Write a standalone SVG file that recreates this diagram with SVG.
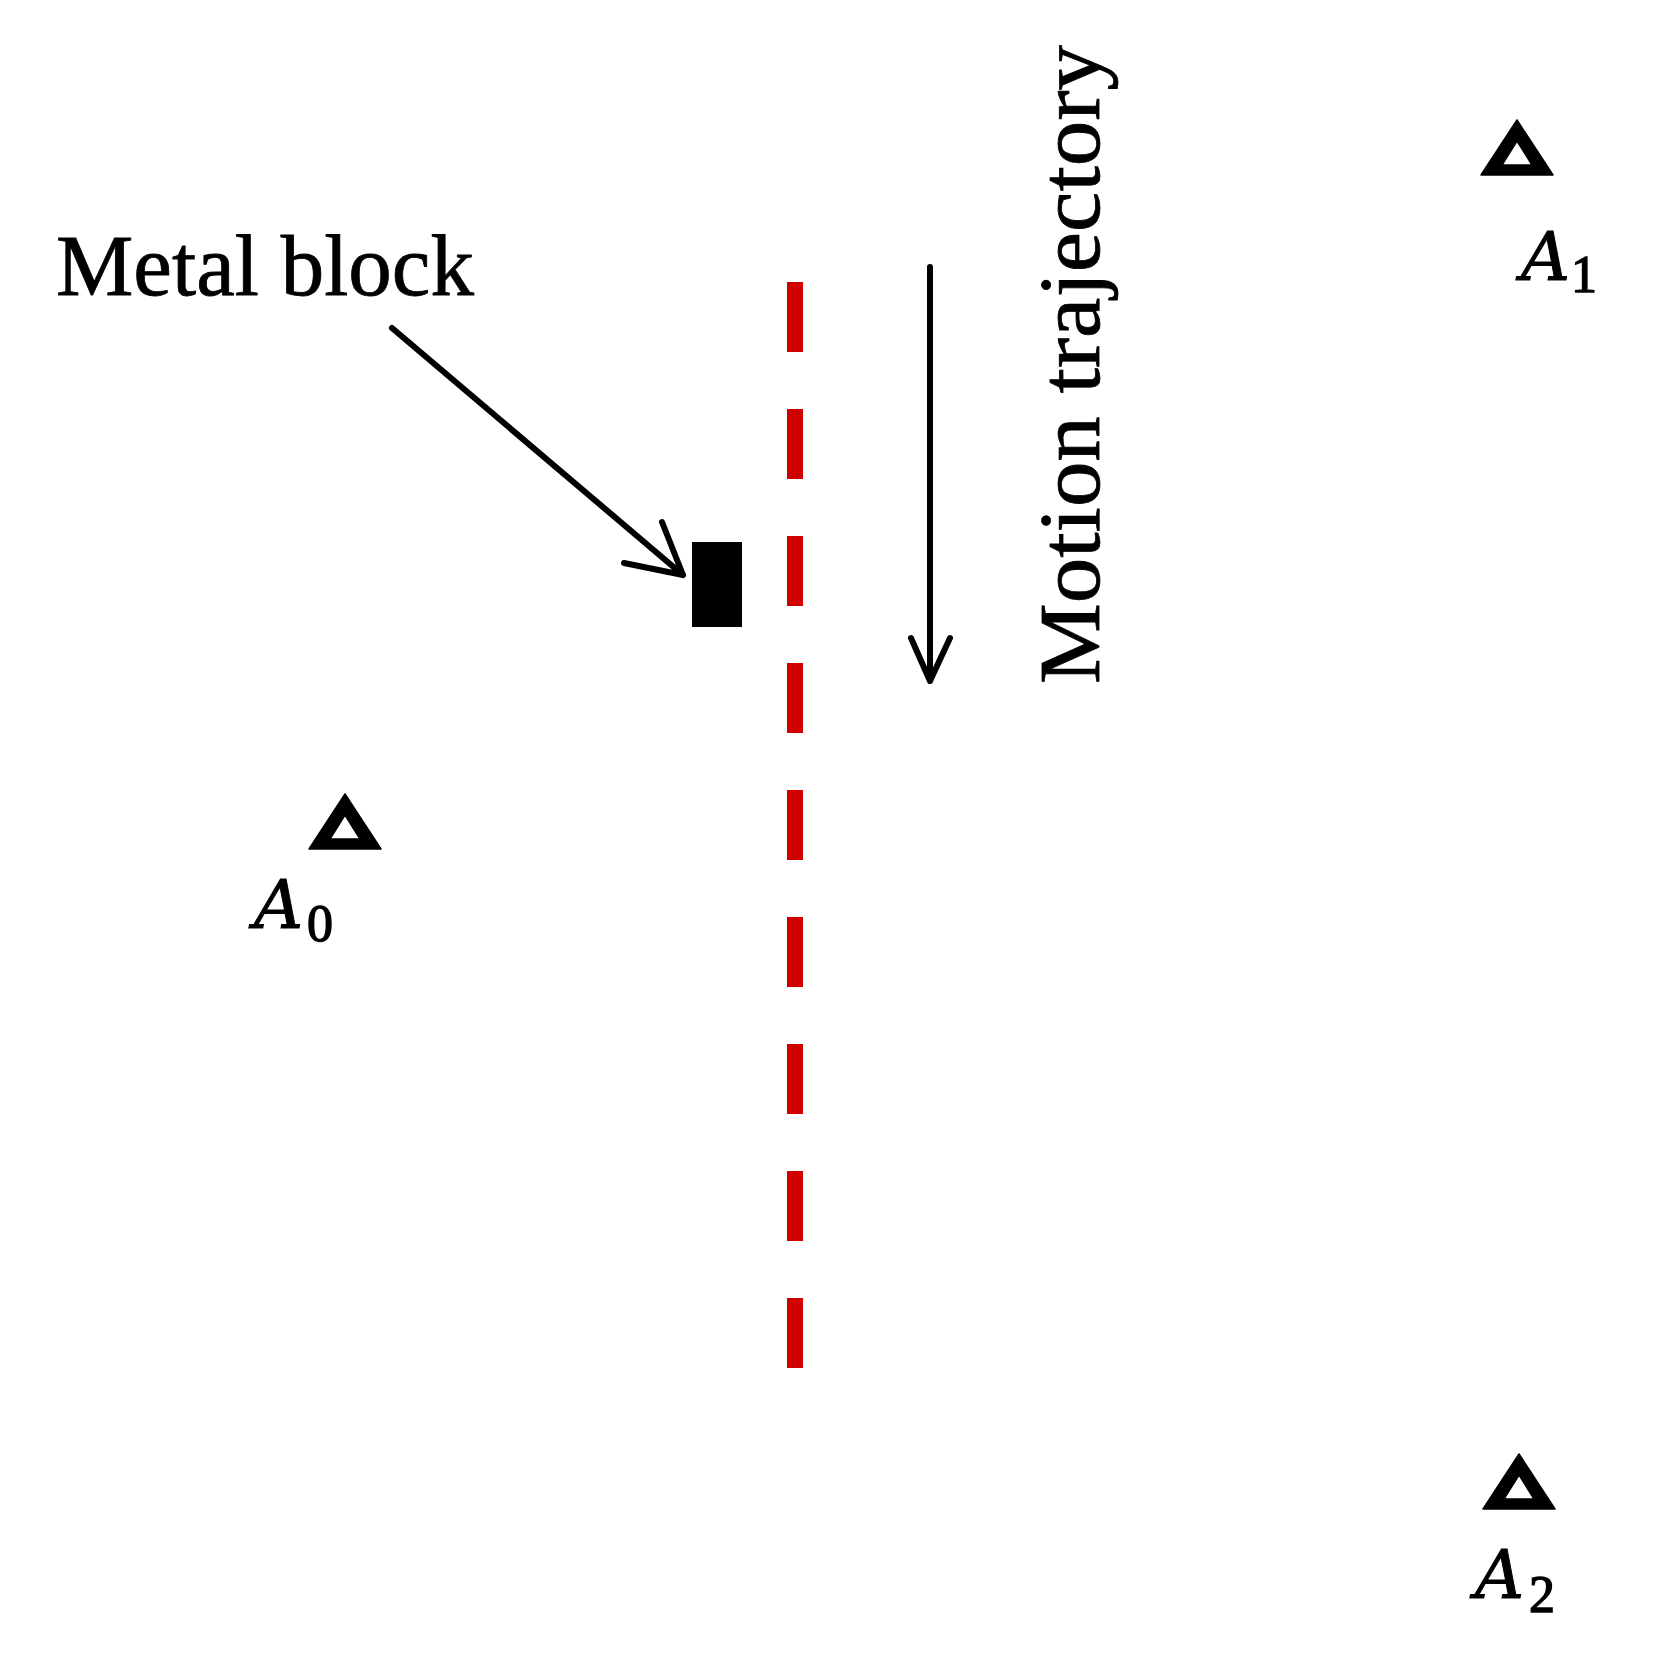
<svg xmlns="http://www.w3.org/2000/svg" width="1680" height="1673" viewBox="0 0 1680 1673">
<style>
.lbl{font-family:"Liberation Serif","Times New Roman",serif;font-size:87px;fill:#000;stroke:#000;stroke-width:0.8}
.math{font-family:"DejaVu Serif","Liberation Serif",serif;font-style:italic;font-size:68px;fill:#000;stroke:#000;stroke-width:1}
.sub{font-family:"Liberation Serif","Times New Roman",serif;font-size:52px;fill:#000;stroke:#000;stroke-width:1.4}
.arr{stroke:#000;stroke-width:6;fill:none;stroke-linecap:round;stroke-linejoin:round}
</style>
<defs>
<path id="tri" d="M0,0 L36,55 L-36,55 Z M0,21 L-15,45 L15,45 Z" fill="#000" fill-rule="evenodd" stroke="#000" stroke-width="1.5" stroke-linejoin="round"/>
</defs>
<rect width="1680" height="1673" fill="#fff"/>
<g id="trajectory-line">
<line x1="795" y1="282" x2="795" y2="1370" stroke="#d00000" stroke-width="16" stroke-dasharray="70 57"/>
</g>
<g id="metal-block">
<rect x="692" y="542" width="50" height="85" fill="#000"/>
<text class="lbl" x="56" y="295">Metal block</text>
</g>
<g id="motion-label">
<text class="lbl" transform="translate(1099,684) rotate(-90)" textLength="639" lengthAdjust="spacingAndGlyphs">Motion trajectory</text>
</g>
<g id="connectors">
<path class="arr" d="M392,328 L683,575 M662,522 L683,575 L624,563"/>
<path class="arr" d="M930,267 L930,681 M911,638 L930,681 L950,638"/>
</g>
<g id="A0">
<use href="#tri" x="345" y="794"/>
<text class="math" x="254" y="928">A</text>
<text class="sub" x="307" y="941">0</text>
</g>
<g id="A1">
<use href="#tri" x="1517" y="120"/>
<text class="math" x="1521" y="280">A</text>
<text class="sub" x="1571" y="292">1</text>
</g>
<g id="A2">
<use href="#tri" x="1519" y="1454"/>
<text class="math" x="1475" y="1598">A</text>
<text class="sub" x="1529" y="1612">2</text>
</g>
</svg>
